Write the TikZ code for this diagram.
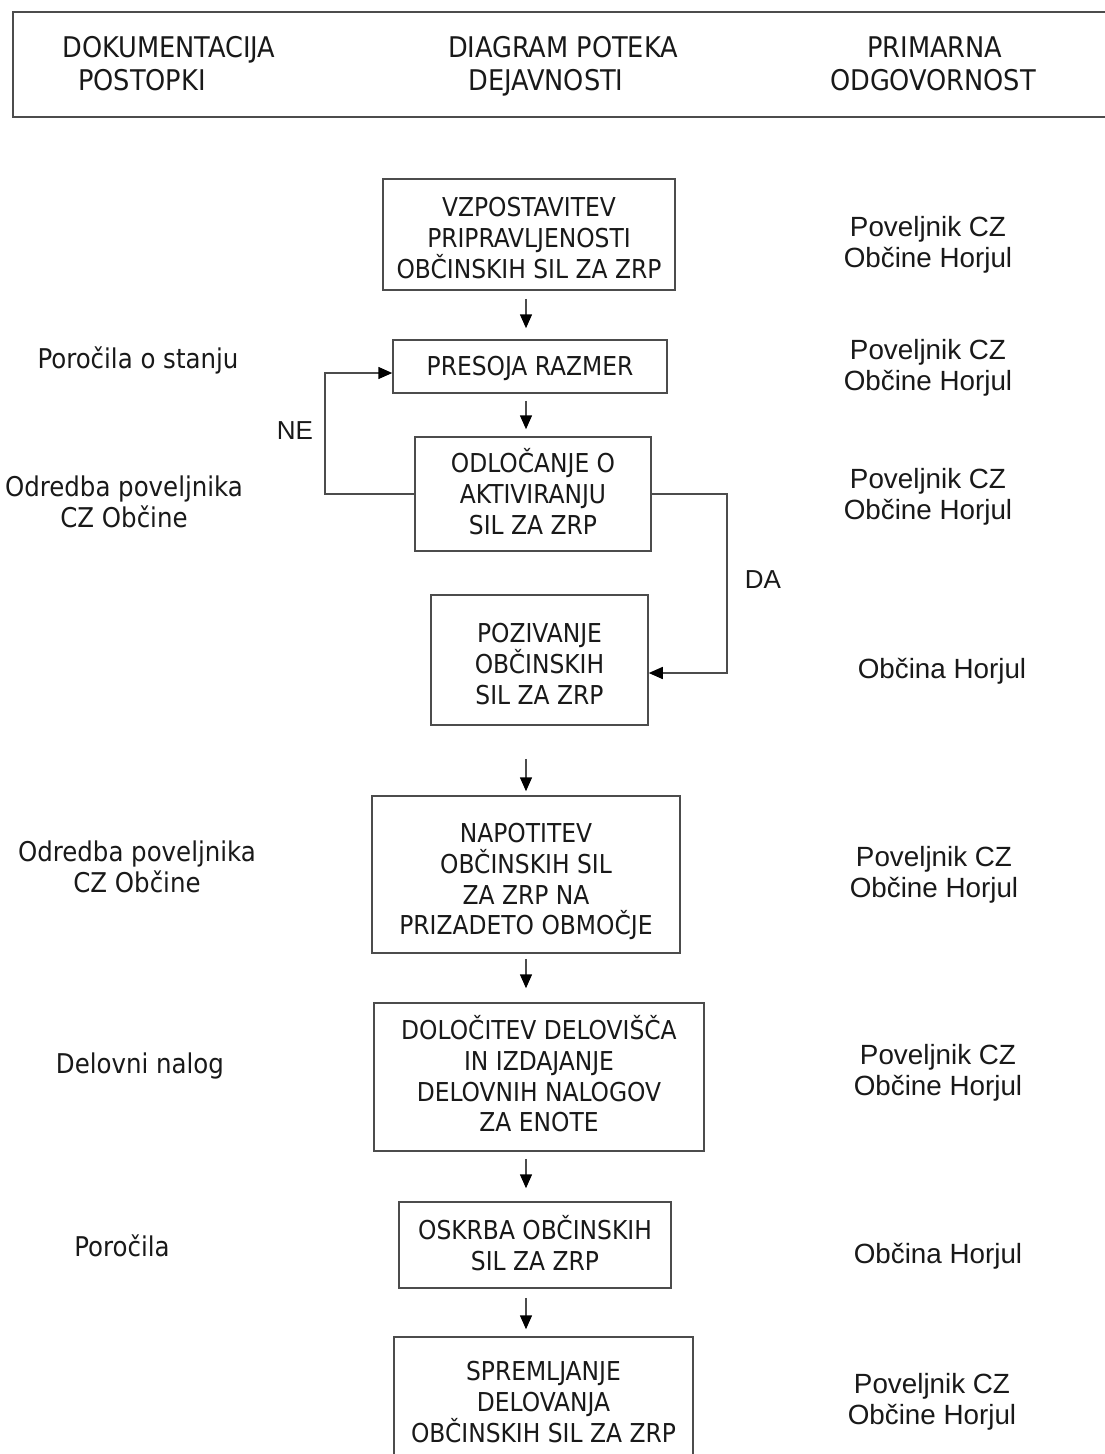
\documentclass[tikz,border=0pt]{standalone}
\usepackage{fontspec}
\setmainfont{DejaVu Sans}
\newfontfamily\tah{DejaVu Sans Condensed}
\newfontfamily\ari{Liberation Sans}
\usetikzlibrary{arrows.meta}
\begin{document}
\begin{tikzpicture}[x=1pt,y=-1pt,
  line/.style={draw=black!70,line width=1.5pt},
  arr/.style={line,-{Triangle[length=14pt,width=12pt,fill=black,color=black]}},
  flowbox/.style={draw=black!70,line width=1.5pt,align=center,inner sep=0pt,anchor=base,
    font=\tah\fontsize{26}{30.8}\selectfont,text=black!90},
  hdr/.style={anchor=base,inner sep=0pt,font=\tah\fontsize{28.5}{33}\selectfont,text=black!90},
  doc/.style={align=center,inner sep=0pt,font=\tah\fontsize{27.2}{31}\selectfont,text=black!90},
  resp/.style={align=center,inner sep=0pt,font=\ari\fontsize{27.8}{30.5}\selectfont,text=black!90},
  yn/.style={inner sep=0pt,font=\ari\fontsize{26}{30}\selectfont,text=black!90}]
\useasboundingbox (0,0) rectangle (1104,1454);
\fill[white] (0,0) rectangle (1104,1454);

% header
\node[draw=black!70,line width=1.5pt,minimum width=1097,minimum height=105,inner sep=0pt] (head) at (561.5,64.5) {};
\node[hdr] (h1a) at (169,57) {DOKUMENTACIJA};
\node[hdr] (h1b) at (142,90) {POSTOPKI};
\node[hdr] (h2a) at (563,57) {DIAGRAM POTEKA};
\node[hdr] (h2b) at (546,90) {DEJAVNOSTI};
\node[hdr] (h3a) at (935,57) {PRIMARNA};
\node[hdr] (h3b) at (933,90) {ODGOVORNOST};

% boxes (anchor=base at the last baseline; text height/depth reach the frame)
\node[flowbox,minimum width=292,text height=99.1,text depth=11.9] (b1) at (529,278.1) {VZPOSTAVITEV\\PRIPRAVLJENOSTI\\OBČINSKIH SIL ZA ZRP};
\node[flowbox,minimum width=274,text height=35.5,text depth=17.5] (b2) at (530,375.5) {PRESOJA RAZMER};
\node[flowbox,minimum width=236,text height=97.1,text depth=16.9] (b3) at (533,534.1) {ODLOČANJE O\\AKTIVIRANJU\\SIL ZA ZRP};
\node[flowbox,minimum width=217,text height=109.1,text depth=20.9] (b4) at (539.5,704.1) {POZIVANJE\\OBČINSKIH\\SIL ZA ZRP};
\node[flowbox,minimum width=308,text height=138.9,text depth=18.1] (b5) at (526,934.9) {NAPOTITEV\\OBČINSKIH SIL\\ZA ZRP NA\\PRIZADETO OBMOČJE};
\node[flowbox,minimum width=330,text height=128.9,text depth=19.1] (b6) at (539,1131.9) {DOLOČITEV DELOVIŠČA\\IN IZDAJANJE\\DELOVNIH NALOGOV\\ZA ENOTE};
\node[flowbox,minimum width=272,text height=68.3,text depth=17.7] (b7) at (535,1270.3) {OSKRBA OBČINSKIH\\SIL ZA ZRP};
\node[flowbox,minimum width=299,text height=105.1,text depth=27.9] (b8) at (543.5,1442.1) {SPREMLJANJE\\DELOVANJA\\OBČINSKIH SIL ZA ZRP};

% vertical arrows
\coordinate (ax) at (526,0);
\draw[arr,shorten <=8pt,shorten >=11pt] (b1.south -| ax) -- (b2.north -| ax);
\draw[arr,shorten <=7pt,shorten >=7pt] (b2.south -| ax) -- (b3.north -| ax);
\draw[arr,shorten <=33pt,shorten >=4pt] (b4.south -| ax) -- (b5.north -| ax);
\draw[arr,shorten <=5pt,shorten >=14pt] (b5.south -| ax) -- (b6.north -| ax);
\draw[arr,shorten <=7pt,shorten >=13pt] (b6.south -| ax) -- (b7.north -| ax);
\draw[arr,shorten <=9pt,shorten >=7pt] (b7.south -| ax) -- (b8.north -| ax);

% NE loop
\coordinate (nex) at (325,0);
\draw[arr] (b3.west) -- (b3.west -| nex) |- ([yshift=-6.5pt]b2.west);
\node[yn] (ne) at (295,431) {NE};
% DA branch
\coordinate (dax) at (727,0);
\draw[arr] (b3.east) -- (b3.east -| dax) |- ([yshift=-13pt]b4.east);
\node[yn] (da) at (763,580) {DA};

% left column
\node[doc] (d1) at (138,360) {Poročila o stanju};
\node[doc] (d2) at (124,501.5) {Odredba poveljnika\\CZ Občine};
\node[doc] (d3) at (137,866.5) {Odredba poveljnika\\CZ Občine};
\node[doc] (d4) at (140,1066) {Delovni nalog};
\node[doc] (d5) at (122,1246) {Poročila};

% right column
\node[resp] (r1) at (928,245) {Poveljnik CZ\\Občine Horjul};
\node[resp] (r2) at (928,368) {Poveljnik CZ\\Občine Horjul};
\node[resp] (r3) at (928,497) {Poveljnik CZ\\Občine Horjul};
\node[resp] (r4) at (942,671) {Občina Horjul};
\node[resp] (r5) at (934,875) {Poveljnik CZ\\Občine Horjul};
\node[resp] (r6) at (938,1073) {Poveljnik CZ\\Občine Horjul};
\node[resp] (r7) at (938,1256) {Občina Horjul};
\node[resp] (r8) at (932,1402) {Poveljnik CZ\\Občine Horjul};
\end{tikzpicture}
\end{document}
